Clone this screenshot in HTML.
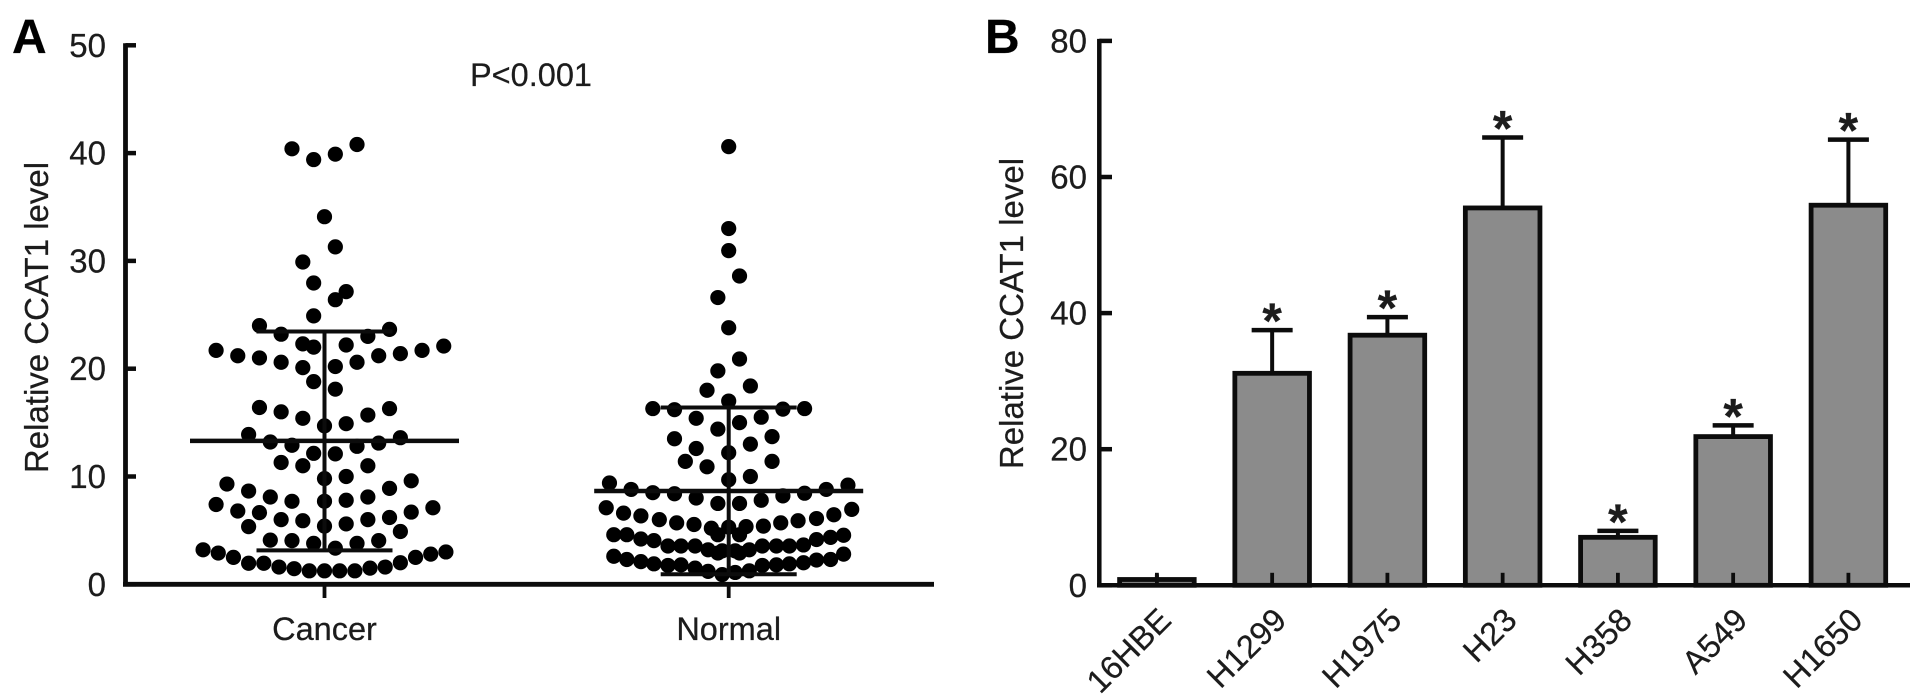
<!DOCTYPE html>
<html>
<head>
<meta charset="utf-8">
<title>CCAT1 expression charts</title>
<style>
html,body{margin:0;padding:0;background:#fff;width:1922px;height:697px;overflow:hidden}
svg{display:block}
text{font-family:"Liberation Sans",Arial,sans-serif;fill:#1c1c1c;stroke:#1c1c1c;stroke-width:0.25px}
</style>
</head>
<body>
<svg id="figure" width="1922" height="697" viewBox="0 0 1922 697" xmlns="http://www.w3.org/2000/svg">
  <text x="12" y="53" font-size="48" font-weight="bold" style="fill:#000">A</text>
  <text x="985" y="53" font-size="48" font-weight="bold" style="fill:#000">B</text>
  <text transform="translate(48,317.5) rotate(-90)" text-anchor="middle" font-size="33">Relative CCAT1 level</text>
  <text transform="translate(1023,313.5) rotate(-90)" text-anchor="middle" font-size="33">Relative CCAT1 level</text>
  <text x="531" y="86" text-anchor="middle" font-size="32.5">P&lt;0.001</text>
  <g id="panelA"></g>
  <g id="panelB"></g>
</svg>
<script>
// Panel A data
const scatterCategories = ['Cancer', 'Normal'];
const scatterTicks = [0, 10, 20, 30, 40, 50];
const cancerValues = [40.4,39.4,39.9,40.8,34.1,31.3,29.9,27.95,27.15,26.4,24.9,24.0,23.65,23.2,23.0,22.3,22.0,22.2,
  21.7,21.2,21.0,20.6,20.1,20.2,20.6,21.2,21.4,21.7,22.1,18.8,18.1,
  16.4,16.3,16.0,15.7,15.4,14.9,14.7,13.9,13.6,13.2,12.9,13.1,12.8,12.15,12.1,11.3,11.0,11.0,
  9.8,10.0,9.3,9.6,8.65,8.9,8.1,7.7,8.1,7.8,7.7,7.4,7.1,6.8,6.65,6.7,6.2,6.0,6.0,5.9,5.6,5.4,5.35,4.9,4.1,4.05,4.05,3.8,3.8,3.35,
  3.2,2.9,2.5,1.95,1.95,1.6,1.45,1.25,1.25,1.25,1.25,1.5,1.6,2.0,2.5,2.8,3.0];
const cancerSwarm = [-3,-1,1,3,0,1,-2,-1,2,1,-1,-6,6,-4,4,-2,-1,2,
  -10,-8,-6,-4,-2,1,3,5,7,9,11,-1,1,
  -6,6,-4,4,-2,2,0,-7,7,-5,-3,5,3,-1,1,-4,-2,4,
  0,2,-9,8,-7,6,-5,-3,4,2,0,-10,10,-8,-6,8,6,4,-4,-2,2,0,-7,7,-5,-3,5,3,-1,1,
  -11.2,-9.8,-8.4,-7,-5.6,-4.2,-2.8,-1.4,0,1.4,2.8,4.2,5.6,7,8.4,9.8,11.2];
const normalValues = [40.6,33.0,30.95,28.6,26.6,23.8,20.9,19.8,18.4,18.0,17.0,16.3,16.2,16.3,16.25,15.4,15.5,15.0,14.4,13.7,13.5,13.0,12.6,12.2,11.4,11.4,10.9,10.0,9.7,
  9.4,9.2,8.8,8.8,8.5,8.45,8.4,8.2,8.0,7.8,7.5,7.5,
  7.1,6.95,6.6,6.45,6.35,6.1,6.0,5.9,5.7,5.7,5.55,5.4,5.2,5.35,5.3,4.6,4.6,
  4.6,4.6,4.2,4.05,3.55,3.55,3.55,3.2,3.1,3.1,3.2,3.55,3.55,3.55,3.65,4.15,4.35,4.55,2.9,2.9,
  2.6,2.3,2.1,1.9,1.75,1.8,1.5,1.2,0.9,1.1,1.25,1.75,1.8,1.9,2.0,2.25,2.3,2.8];
const normalSwarm = [0,0,0,1,-1,0,1,-1,2,-2,0,-7,-5,7,5,-3,3,1,-1,4,-5,2,-3,0,-4,4,-2,2,0,
  -11,11,-9,9,-7,7,-5,5,-3,3,-1,1,
  -11.3,11.35,-9.7,9.7,-8.1,8.1,-6.4,6.4,-4.8,4.8,-3.2,3.2,-1.6,1.6,0,-1,1,
  -10.6,-9.4,-8.1,-6.9,-5.6,-4.4,-3.1,-1.9,-0.6,0.6,1.9,3.1,4.4,5.6,6.9,8.1,9.4,10.6,-1,1,
  -10.6,-9.4,-8.1,-6.9,-5.6,-4.4,-3.1,-1.9,-0.6,0.6,1.9,3.1,4.4,5.6,6.9,8.1,9.4,10.6];
const scatterMeans = [13.3, 8.65];
const scatterUppers = [23.45, 16.4];
const scatterLowers = [3.15, 0.93];

// Panel B data
const barCategories = ['16HBE', 'H1299', 'H1975', 'H23', 'H358', 'A549', 'H1650'];
const barValues = [1.0, 31.3, 36.9, 55.6, 7.2, 22.0, 56.0];
const barErrorTops = [1.6, 37.5, 39.4, 65.8, 8.0, 23.5, 65.5];
const barSignificant = [false, true, true, true, true, true, true];
const barTicks = [0, 20, 40, 60, 80];

const NS = 'http://www.w3.org/2000/svg';
const INK = '#0c0c0c';
const panelA = document.getElementById('panelA');
const panelB = document.getElementById('panelB');

// Axis functions
function aY(v) { return 584.3 - 10.78 * v; }
function aX(i) { return 324.5 + 404.2 * i; }
function swarmX(s) { return s * 10.84; }
function bY(v) { return 585.3 - 6.805 * v; }
function bX(i) { return 1156.9 + 115.25 * i; }

function line(parent, x1, y1, x2, y2, w) {
  const el = document.createElementNS(NS, 'line');
  el.setAttribute('x1', x1);
  el.setAttribute('y1', y1);
  el.setAttribute('x2', x2);
  el.setAttribute('y2', y2);
  el.setAttribute('stroke', INK);
  el.setAttribute('stroke-width', w);
  parent.appendChild(el);
  return el;
}
function label(parent, x, y, str, size, anchor) {
  const el = document.createElementNS(NS, 'text');
  el.setAttribute('x', x);
  el.setAttribute('y', y);
  el.setAttribute('font-size', size);
  el.setAttribute('text-anchor', anchor);
  el.textContent = str;
  parent.appendChild(el);
  return el;
}

// ---- Panel A ----
const aYAxis = line(panelA, 125.5, aY(50) - 2, 125.5, aY(0) + 2, 4.8);


const aXAxis = line(panelA, 123, aY(0), 934, aY(0), 4.8);



scatterTicks.forEach(function (t) {
  const tick = line(panelA, 125.5, aY(t), 136, aY(t), 4.5);
  
  
  const lab = label(panelA, 106, aY(t) + 11.5, String(t), 33, 'end');
  
  
});

scatterCategories.forEach(function (c, i) {
  const tick = line(panelA, aX(i), aY(0), aX(i), 598, 3.8);
  
  
  const lab = label(panelA, aX(i), 640, c, 32.5, 'middle');
  
  
});

function drawDots(values, swarm, i) {
  values.forEach(function (v, k) {
    const dot = document.createElementNS(NS, 'circle');
    dot.setAttribute('cx', aX(i) + swarmX(swarm[k]));
    dot.setAttribute('cy', aY(v));
    dot.setAttribute('r', 7.6);
    dot.setAttribute('fill', '#000');
    
    
    panelA.appendChild(dot);
  });
}
drawDots(cancerValues, cancerSwarm, 0);
drawDots(normalValues, normalSwarm, 1);

scatterCategories.forEach(function (c, i) {
  const stem = line(panelA, aX(i), aY(scatterUppers[i]), aX(i), aY(scatterLowers[i]), 4);
  
  
  const mean = line(panelA, aX(i) - 134.5, aY(scatterMeans[i]), aX(i) + 134.5, aY(scatterMeans[i]), 4.5);
  
  
  const up = line(panelA, aX(i) - 68, aY(scatterUppers[i]), aX(i) + 68, aY(scatterUppers[i]), 4);
  
  
  const low = line(panelA, aX(i) - 68, aY(scatterLowers[i]), aX(i) + 68, aY(scatterLowers[i]), 4);
  
  
});

// ---- Panel B ----
barCategories.forEach(function (c, i) {
  const cap = line(panelB, bX(i) - 20.5, bY(barErrorTops[i]), bX(i) + 20.5, bY(barErrorTops[i]), 4.5);
  
  
  if (i === 0) { cap.setAttribute('stroke-opacity', '0'); }
  const stem = line(panelB, bX(i), bY(barValues[i]), bX(i), bY(barErrorTops[i]), 4);
  
  

  const bar = document.createElementNS(NS, 'rect');
  bar.setAttribute('x', bX(i) - 37.3);
  bar.setAttribute('y', bY(barValues[i]) + 1);
  bar.setAttribute('width', 74.6);
  bar.setAttribute('height', bY(0) - bY(barValues[i]) - 1);
  bar.setAttribute('fill', '#8b8b8b');
  bar.setAttribute('stroke', INK);
  bar.setAttribute('stroke-width', 4.8);
  
  
  panelB.appendChild(bar);

  const tick = line(panelB, bX(i), bY(0) - 12.5, bX(i), bY(0), 3.8);
  
  

  const lab = label(panelB, 0, 0, c, 32.5, 'end');
  lab.setAttribute('transform', 'translate(' + (bX(i) + 16) + ',622) rotate(-45)');
  
  

  if (barSignificant[i]) {
    const star = label(panelB, bX(i), bY(barErrorTops[i]) + 8, '*', 50, 'middle');
    star.setAttribute('font-weight', 'bold');
    
    
  }
});

const bYAxis = line(panelB, 1099.3, bY(80) - 2, 1099.3, bY(0) + 2, 4.5);


const bXAxis = line(panelB, 1097, bY(0), 1910, bY(0), 4.5);



barTicks.forEach(function (t) {
  const tick = line(panelB, 1099.3, bY(t), 1112, bY(t), 4.5);
  
  
  const lab = label(panelB, 1087, bY(t) + 11.5, String(t), 33, 'end');
  
  
});
</script>
</body>
</html>
